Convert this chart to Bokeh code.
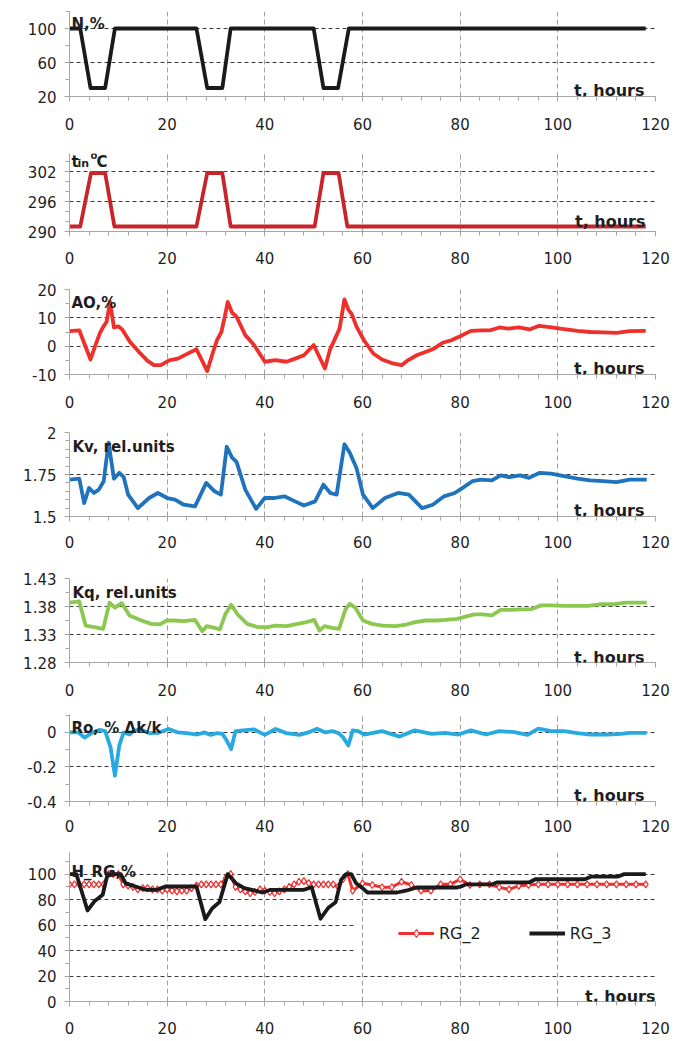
from bokeh.plotting import figure
from bokeh.layouts import column
from bokeh.models import FixedTicker, Label, Legend, LegendItem, BoxAnnotation
from bokeh.embed import file_html
from bokeh.resources import INLINE

# ---------------- data ----------------
X_TICKS = [0, 20, 40, 60, 80, 100, 120]
X_MINOR = [0, 4, 8, 12, 16, 20, 24, 28, 32, 36, 40, 44, 48, 52, 56, 60, 64, 68, 72, 76,
           80, 84, 88, 92, 96, 100, 104, 108, 112, 116, 120]

t_N = [0, 2.2, 4.3, 7.3, 9.3, 26, 28.2, 31.3, 33, 50, 52, 55, 57.2, 118]
N = [100, 100, 30, 30, 100, 100, 30, 30, 100, 100, 30, 30, 100, 100]

t_tin = [0, 2.2, 4.4, 7.3, 9.2, 26, 28.2, 31.3, 33, 50.2, 52, 55.1, 56.9, 118]
tin = [291, 291, 301.7, 301.7, 291, 291, 301.7, 301.7, 291, 291, 301.7, 301.7, 291, 291]

t_AO = [0, 2, 4.3, 5.3, 6.2, 6.9, 7.6, 8.3, 9.1, 10, 10.8, 12.4, 14.2, 16, 17.3, 18.7, 20.4,
        22.2, 24, 26, 28.2, 29.3, 30.2, 31.1, 31.8, 32.4, 33.3, 34.2, 36, 37.8, 40, 42.2,
        44.4, 46.2, 48, 50, 52.3, 53.3, 54.7, 55.3, 56.3, 57.1, 57.8, 58.8, 60.3, 62.2, 64,
        66.2, 68, 69.3, 71.1, 73.3, 74.7, 76.4, 78.2, 80, 82.2, 84.4, 86.2, 88, 89.8, 92,
        94.2, 96.2, 98.7, 101.3, 104, 106.7, 109.3, 112, 114.7, 118]
AO = [5.3, 5.6, -4.7, 0.3, 4.5, 6.8, 8.6, 15.6, 6.6, 7, 5.9, 1.5, -2, -5.2, -6.7, -6.7, -5,
      -4.4, -2.8, -1.1, -8.8, -2.6, 2.1, 5, 10.4, 15.6, 11.8, 10.4, 3.9, 0.4, -5.5, -4.9,
      -5.5, -4.4, -3.2, 0.4, -7.9, -1.4, 3.9, 6.2, 16.5, 12.9, 11.3, 6.8, 2.1, -2.6, -4.7,
      -6.1, -6.7, -5, -3.2, -1.8, -0.8, 1.2, 2.1, 3.5, 5.4, 5.6, 5.6, 6.6, 6.2, 6.6,
      5.9, 7.2, 6.6, 6, 5.4, 5, 4.9, 4.7, 5.3, 5.4]

t_Kv = [0, 2, 3, 4, 5, 6, 7, 8, 9.1, 10.2, 11.1, 12, 14, 16.3, 18.1, 20, 21.6, 23.4, 25.7,
        28, 29.7, 31, 32.2, 33.3, 34.2, 36, 38.2, 40, 41.8, 44, 46.2, 48, 50.3, 52, 53.4,
        54.7, 56.3, 57.4, 58.8, 60.1, 62.1, 64.6, 67.3, 69.5, 72.2, 74.4, 76.7, 78.9, 80.5,
        82.5, 84.3, 86.5, 88.3, 90, 92.3, 94.1, 96.3, 98.6, 101.3, 104, 106.6, 109.3, 112,
        114.7, 118.2]
Kv = [1.72, 1.725, 1.58, 1.67, 1.64, 1.66, 1.71, 1.94, 1.725, 1.76, 1.735, 1.63, 1.55, 1.61,
      1.64, 1.61, 1.6, 1.57, 1.56, 1.7, 1.65, 1.63, 1.915, 1.85, 1.825, 1.66, 1.545, 1.61,
      1.61, 1.62, 1.59, 1.565, 1.59, 1.69, 1.64, 1.63, 1.93, 1.88, 1.785, 1.63, 1.55, 1.61,
      1.64, 1.63, 1.55, 1.57, 1.62, 1.64, 1.67, 1.71, 1.72, 1.715, 1.745, 1.735, 1.745,
      1.73, 1.76, 1.755, 1.74, 1.725, 1.715, 1.71, 1.705, 1.72, 1.72]

t_Kq = [0, 2, 3.3, 5.1, 6.9, 8.2, 9.3, 10.7, 12.3, 14.5, 16.7, 18.5, 19.9, 21.6, 23.4, 25.7,
        27.2, 28.1, 29.7, 30.8, 31.9, 33.1, 34.6, 36.4, 38.6, 40.6, 42.2, 44.5, 46.7, 48.5,
        50.1, 51.2, 52.2, 53.8, 55.2, 56.5, 57.4, 58.5, 60.1, 61.9, 64.1, 66.8, 68.6, 70.8,
        73, 75.2, 77, 79.4, 80.7, 82.9, 84.7, 86.5, 88.3, 90.5, 92.3, 94.5, 96.6, 98.6,
        101.3, 104, 106.2, 108.5, 111.2, 113.9, 116.5, 118.2]
Kq = [1.387, 1.389, 1.346, 1.343, 1.34, 1.387, 1.378, 1.386, 1.364, 1.356, 1.349, 1.348,
      1.355, 1.355, 1.354, 1.356, 1.336, 1.345, 1.342, 1.339, 1.366, 1.383, 1.364, 1.349,
      1.343, 1.343, 1.346, 1.345, 1.349, 1.352, 1.356, 1.337, 1.345, 1.342, 1.34, 1.375,
      1.385, 1.378, 1.355, 1.349, 1.346, 1.345, 1.347, 1.352, 1.355, 1.355, 1.356, 1.358,
      1.361, 1.366, 1.366, 1.364, 1.374, 1.374, 1.375, 1.375, 1.382, 1.382, 1.381, 1.381,
      1.381, 1.384, 1.384, 1.387, 1.387, 1.387]

t_Ro = [0, 1.8, 3.1, 4.4, 6.2, 7.3, 8.4, 9.3, 10.2, 11.1, 12.3, 13.3, 14.7, 16.4, 18.2, 20.3,
        22.2, 24, 26.2, 27.7, 28.9, 30.2, 31.3, 32.2, 33.1, 34, 35.6, 37.8, 40, 42.2, 44.4,
        47.1, 48.9, 50.7, 52.4, 53.8, 55.1, 56, 57.1, 58, 59.1, 60.4, 64, 67.6, 70.7, 74.2,
        76.9, 79.6, 82.2, 85.3, 88, 91.1, 93.8, 96, 98.7, 101.3, 104, 106.7, 110.2, 112.9,
        114.7, 118.2]
Ro = [0, 0, -0.03, -0.005, 0.015, 0.008, -0.085, -0.25, -0.075, 0, -0.012, 0.012, 0.016,
      -0.004, -0.002, 0.02, 0, -0.004, -0.012, 0, -0.014, -0.004, -0.008, -0.047, -0.096,
      0.008, 0.012, 0.018, -0.014, 0.02, -0.004, -0.014, 0, 0.022, 0, 0.008, -0.004,
      -0.027, -0.076, 0.012, 0.008, -0.012, 0.008, -0.024, 0.012, -0.008, -0.002, -0.012,
      0.012, -0.012, 0.008, 0.002, -0.014, 0.022, 0.008, 0.008, -0.004, -0.012, -0.012,
      -0.008, -0.002, -0.002]

t_RG2 = [0, 1, 2, 3, 4, 5, 6, 7, 8, 9, 10, 11, 12, 13, 14, 15, 16, 17, 18, 19, 20, 21, 22,
         23, 24, 25, 26, 27, 28, 29, 30, 31, 32, 33, 34, 35, 36, 37, 38, 39, 40, 41, 42, 43,
         44, 45, 46, 47, 48, 49, 50, 51, 52, 53, 54, 55, 56, 57, 58, 60, 62, 64, 66, 68, 70,
         72, 74, 76, 78, 80, 82, 84, 86, 88, 90, 92, 94, 96, 98, 100, 102, 104, 106, 108,
         110, 112, 114, 116, 118]
RG2 = [92, 92, 92, 92, 92, 92, 92, 92, 100, 100, 100, 92, 91, 90, 88, 89, 89, 88, 88, 87,
       88, 87, 86.5, 87, 87, 89, 91, 92, 92, 92, 92, 92, 97, 100, 90, 88, 86.5, 85, 86, 88,
       87, 86, 85, 86.5, 88, 90, 92, 94, 94.5, 93, 92, 92, 92, 92, 92, 90, 96, 100, 87,
       92.8, 91.5, 89.7, 89.7, 94, 91.5, 87, 87, 92, 92, 96, 91.5, 92, 92, 89.7, 88, 90.8,
       91.5, 92, 92, 92, 92, 92, 92, 92, 92, 92, 92, 92, 92]

t_RG3 = [0, 1.4, 3.7, 5.1, 6.8, 7.8, 10.5, 11.5, 13.5, 15.6, 17.9, 19.6, 26, 27.8, 29.2,
         30.7, 32.4, 34.1, 35.8, 37.8, 39.5, 41.2, 48, 49.6, 51.4, 53, 54.5, 55.6, 56.6,
         57.7, 58.7, 60, 61, 67.1, 69.1, 71.1, 79.2, 80.2, 81.2, 86.6, 87.6, 94.2, 95.4,
         105.5, 106.8, 112.2, 113.6, 118]
RG3 = [100, 100, 71.5, 78.7, 83.8, 100, 100, 92.8, 90.3, 87.7, 87.7, 90.3, 90.3, 64.6, 73,
       78, 100, 92.8, 89, 87.2, 85.6, 87.7, 87.7, 89.7, 65, 73.6, 78, 95.4, 100, 100, 92.8,
       89, 85.6, 85.6, 87.2, 89.5, 89.5, 90.3, 92, 92, 93.6, 93.6, 96, 96, 98, 98, 100, 100]

# y-axis ticks and labels per panel
N_ticks, N_labels, N_minor = [20, 60, 100], ["20", "60", "100"], [40, 80, 120]
tin_ticks, tin_labels, tin_minor = [290, 296, 302], ["290", "296", "302"], [292, 294, 298, 300, 304]
AO_ticks, AO_labels, AO_minor = [-10, 0, 10, 20], ["-10", "0", "10", "20"], [-5, 5, 15]
Kv_ticks, Kv_labels = [1.5, 1.75, 2], ["1.5", "1.75", "2"]
Kv_minor = [1.55, 1.6, 1.65, 1.7, 1.8, 1.85, 1.9, 1.95]
Kq_ticks, Kq_labels = [1.28, 1.33, 1.38, 1.43], ["1.28", "1.33", "1.38", "1.43"]
Kq_minor = [1.305, 1.355, 1.405]
Ro_ticks, Ro_labels, Ro_minor = [-0.4, -0.2, 0], ["-0.4", "-0.2", "0"], [-0.3, -0.1, 0.1]
H_ticks, H_labels = [0, 20, 40, 60, 80, 100], ["0", "20", "40", "60", "80", "100"]
H_minor = [10, 30, 50, 70, 90, 110]

# ---------------- style ----------------
FONT = "DejaVu Sans"
TXT = "#1e1e1e"
AXC = "#a6a6a6"
W = 680


def make(height, top, bottom, left, right, yr, yticks, ylabels, yminor, standoff):
    p = figure(width=W, height=height, x_range=(0, 120), y_range=yr,
               output_backend="svg", toolbar_location=None, title=None,
               min_border_top=top, min_border_bottom=bottom,
               min_border_left=left, min_border_right=right)
    p.outline_line_color = None
    p.background_fill_color = "white"
    p.border_fill_color = "white"
    xa = p.xaxis[0]
    ya = p.yaxis[0]
    xa.ticker = FixedTicker(ticks=X_TICKS, minor_ticks=X_MINOR)
    ya.ticker = FixedTicker(ticks=yticks, minor_ticks=yminor)
    ya.major_label_overrides = dict(zip(yticks, ylabels))
    for ax in (xa, ya):
        ax.axis_line_color = AXC
        ax.major_tick_line_color = AXC
        ax.minor_tick_line_color = AXC
        ax.major_tick_in = 0
        ax.major_tick_out = 5
        ax.minor_tick_in = 0
        ax.minor_tick_out = 4
        ax.major_label_text_font = FONT
        ax.major_label_text_font_size = "15px"
        ax.major_label_text_color = TXT
    xa.major_label_standoff = standoff
    ya.major_label_standoff = 8
    xg = p.xgrid[0]
    yg = p.ygrid[0]
    xg.ticker = FixedTicker(ticks=X_TICKS)
    yg.ticker = FixedTicker(ticks=yticks)
    xg.grid_line_color = "#a0a0a0"
    xg.grid_line_dash = "5 3"
    xg.grid_line_width = 1
    yg.grid_line_color = "#3a3a3a"
    yg.grid_line_dash = "4 3"
    yg.grid_line_width = 1
    return p


def label(p, text, x, y, xo, yo, size="15px", align="left"):
    p.add_layout(Label(x=x, y=y, text=text, x_offset=xo, y_offset=yo,
                       text_font=FONT, text_font_style="bold", text_font_size=size,
                       text_color=TXT, text_align=align, text_baseline="alphabetic"))


def hours(p, y, xo, yo):
    label(p, "t, hours", 120, y, xo, yo, size="16px", align="right")


LW = 3.8

# Panel 1: N
p1 = make(140, 11, 44, 66, 25, (20, 120), N_ticks, N_labels, N_minor, 16)
p1.line(t_N, N, line_width=LW, line_color="#1a1a1a", line_join="round")
label(p1, "N,%", 0, 120, 2, -12)
hours(p1, 20, -11, 6)

# Panel 2: t_in
p2 = make(135, 13, 44, 66, 25, (290, 305.6), tin_ticks, tin_labels, tin_minor, 15)
p2.line(t_tin, tin, line_width=LW, line_color="#c8242b", line_join="round")
label(p2, "t", 0, 305.6, 2, -8)
label(p2, "in", 0, 305.6, 8, -10, size="11px")
label(p2, "o", 0, 305.6, 21, -2, size="10px")
label(p2, "C", 0, 305.6, 27, -8)
hours(p2, 290, -10, 10)

# Panel 3: AO
p3 = make(143, 14, 44, 66, 25, (-10, 20), AO_ticks, AO_labels, AO_minor, 16)
p3.line(t_AO, AO, line_width=LW, line_color="#ef2f2a", line_join="round")
label(p3, "AO,%", 0, 20, 2, -13)
hours(p3, -10, -11, 6)

# Panel 4: Kv
p4 = make(140, 14, 42, 69, 25, (1.5, 2), Kv_ticks, Kv_labels, Kv_minor, 14)
p4.line(t_Kv, Kv, line_width=LW, line_color="#1f73bd", line_join="round")
label(p4, "Kv, rel.units", 0, 2, 3, -14)
hours(p4, 1.5, -11, 6)

# Panel 5: Kq
p5 = make(144, 20, 40, 69, 25, (1.28, 1.43), Kq_ticks, Kq_labels, Kq_minor, 16)
p5.line(t_Kq, Kq, line_width=LW, line_color="#8cc850", line_join="round")
label(p5, "Kq, rel.units", 0, 1.43, 3, -14)
hours(p5, 1.28, -11, 5)

# Panel 6: Ro
p6 = make(138, 12, 39, 66, 25, (-0.4, 0.104), Ro_ticks, Ro_labels, Ro_minor, 13)
p6.line(t_Ro, Ro, line_width=LW, line_color="#27aae1", line_join="round")
label(p6, "Ro, % \u0394k/k", 0, 0.104, 2, -13)
hours(p6, -0.4, -11, 6)

# Panel 7: H_RG
p7 = make(200, 12, 39, 63, 23, (0, 117), H_ticks, H_labels, H_minor, 15)
xg7 = p7.xgrid[0]
yg7 = p7.ygrid[0]
backdrop = BoxAnnotation(left=58.3, bottom=33, top=68, fill_color="white", fill_alpha=1.0,
                         line_color=None, level="underlay")
p7.center = [yg7, backdrop, xg7] + [c for c in p7.center if c is not xg7 and c is not yg7]
r2l = p7.line(t_RG2, RG2, line_width=3, line_color="#f03030", line_join="round")
r2m = p7.scatter(t_RG2, RG2, marker="diamond", size=7, fill_color="white",
                 line_color="#f03030", line_width=1.2)
r3 = p7.line(t_RG3, RG3, line_width=LW, line_color="#1a1a1a", line_join="round")
legend = Legend(items=[LegendItem(label="RG_2", renderers=[r2l, r2m]),
                       LegendItem(label="RG_3", renderers=[r3])],
                orientation="horizontal", location=(329, 58),
                background_fill_alpha=0, border_line_alpha=0,
                padding=0, margin=0, spacing=48,
                glyph_width=36, glyph_height=20, label_height=20,
                label_standoff=5, label_text_font=FONT, label_text_font_size="16px",
                label_text_color=TXT)
p7.add_layout(legend)
label(p7, "H_RG,%", 0, 117, 2, -19)
hours(p7, 0, 0, 5)

layout = column(p1, p2, p3, p4, p5, p6, p7, spacing=0)
open("out.html", "w").write(file_html(layout, INLINE, "chart"))
